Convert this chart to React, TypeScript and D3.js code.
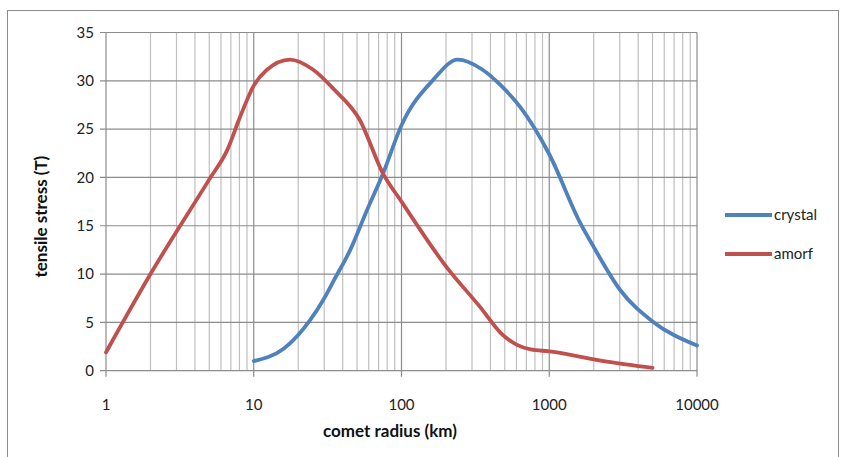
import React from 'react'
import * as d3 from 'd3'

// values
const crystalR = [10, 16, 20, 24, 30, 35, 45, 58, 75, 100, 164, 240, 350, 465, 635, 1000, 1620, 2000, 3020, 5000, 10000]
const crystalT = [1.0, 2.3, 3.7, 5.2, 7.5, 9.4, 12.5, 16.5, 20.4, 25.4, 30.1, 32.2, 31.2, 29.6, 27.3, 22.4, 15.3, 12.8, 8.35, 5.1, 2.6]
const amorfR = [1, 2, 5, 6.6, 8.1, 10, 12.2, 17.6, 25, 35, 52, 75, 100, 200, 340, 470, 600, 750, 1000, 2450, 5000]
const amorfT = [1.9, 10, 19.8, 22.8, 26.3, 29.5, 31.1, 32.2, 31.2, 29.1, 26, 20.4, 17.5, 10.8, 6.6, 3.9, 2.7, 2.2, 2.0, 0.95, 0.3]
const xTicks = [1, 10, 100, 1000, 10000]
const yTicks = [0, 5, 10, 15, 20, 25, 30, 35]

const series = [
  { name: 'crystal', color: '#4F81BD', r: crystalR, t: crystalT },
  { name: 'amorf', color: '#C0504D', r: amorfR, t: amorfT },
]

const W = 846
const H = 457
const left = 106
const right = 697
const top = 32.5
const bottom = 370.7
const font = 'Lato, "Open Sans", sans-serif'

export default function App() {
  const x = d3.scaleLog().domain([1, 10000]).range([left, right])
  const y = d3.scaleLinear().domain([0, 35]).range([bottom, top])

  // minor grid lines 2..9 inside each decade
  const minors: number[] = []
  for (let d = 1; d < 10000; d *= 10) {
    for (let k = 2; k <= 9; k++) minors.push(d * k)
  }

  const line = d3.line<[number, number]>()
    .x(d => x(d[0]))
    .y(d => y(d[1]))
    .curve(d3.curveMonotoneX)

  return (
    <svg width={W} height={H} style={{ position: 'absolute', left: 0, top: 0 }}>
      <rect x={0} y={0} width={W} height={H} fill="#fff" />
      <rect x={7.5} y={10.5} width={831} height={460} fill="none" stroke="#8c8c8c" strokeWidth={1} />

      {minors.map(v => (
        <line key={'m' + v} x1={x(v)} x2={x(v)} y1={top} y2={bottom} stroke="#bfbfbf" strokeWidth={1.2} />
      ))}
      {yTicks.map(v => (
        <line key={'h' + v} x1={left - 6} x2={right} y1={y(v)} y2={y(v)} stroke="#8c8c8c" strokeWidth={1.2} />
      ))}
      {xTicks.map(v => (
        <line key={'v' + v} x1={x(v)} x2={x(v)} y1={top} y2={bottom + 6} stroke="#8c8c8c" strokeWidth={1.2} />
      ))}

      {yTicks.map(v => (
        <text key={'yl' + v} x={left - 12} y={y(v)} dy="0.35em" textAnchor="end"
          fontFamily={font} fontSize={15} fill="#222">{v}</text>
      ))}
      {xTicks.map(v => (
        <text key={'xl' + v} x={x(v)} y={405} dy="0.35em" textAnchor="middle"
          fontFamily={font} fontSize={15} fill="#222">{v}</text>
      ))}

      {series.map(s => (
        <path key={s.name} d={line(s.r.map((r, i) => [r, s.t[i]] as [number, number])) || ''}
          fill="none" stroke={s.color} strokeWidth={3.8} strokeLinejoin="round" strokeLinecap="round" />
      ))}

      <text x={390} y={431} dy="0.35em" textAnchor="middle" fontFamily={font} fontSize={17}
        fontWeight="bold" fill="#111">comet radius (km)</text>
      <text transform={`translate(41,${(top + bottom) / 2 + 15}) rotate(-90)`} dy="0.35em" textAnchor="middle"
        fontFamily={font} fontSize={17} fontWeight="bold" fill="#111">tensile stress (T)</text>

      {series.map((s, i) => (
        <g key={'lg' + s.name} transform={`translate(725,${215 + i * 39})`}>
          <line x1={0} x2={47} y1={0} y2={0} stroke={s.color} strokeWidth={3.8} />
          <text x={49} y={0} dy="0.35em" fontFamily={font} fontSize={15} fill="#222">{s.name}</text>
        </g>
      ))}
    </svg>
  )
}
